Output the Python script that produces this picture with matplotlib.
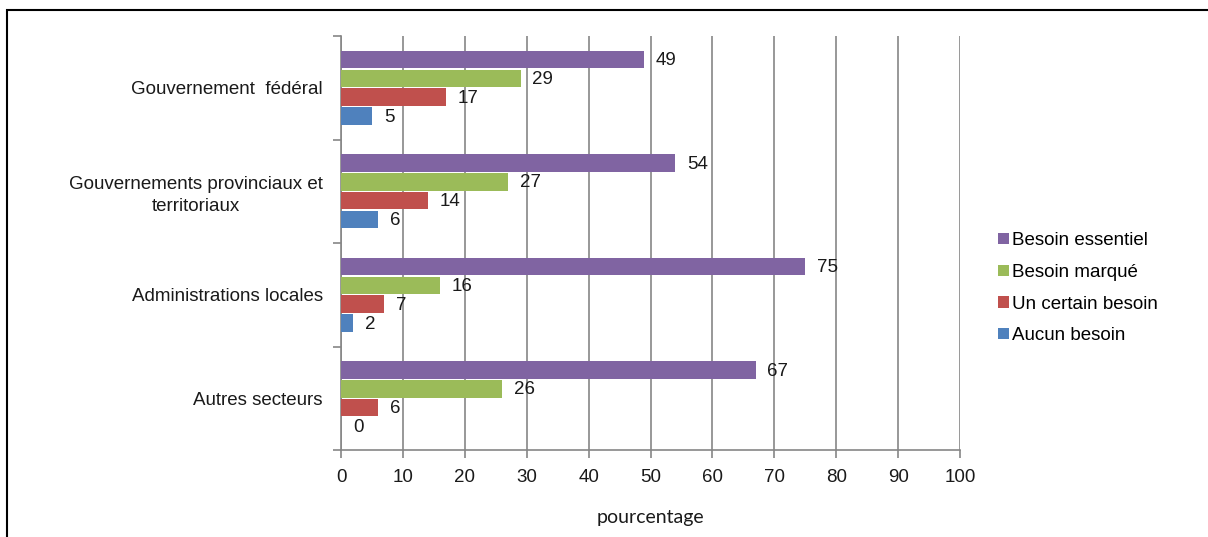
import matplotlib
matplotlib.use("Agg")
import matplotlib.pyplot as plt
import numpy as np
from matplotlib.patches import Rectangle, Patch
from matplotlib.ticker import FixedLocator

plt.rcParams['font.family'] = ['Liberation Sans', 'DejaVu Sans']

categories = ["Gouvernement  fédéral",
              "Gouvernements provinciaux et\nterritoriaux",
              "Administrations locales",
              "Autres secteurs"]
series_names = ["Besoin essentiel", "Besoin marqué", "Un certain besoin", "Aucun besoin"]
besoin_essentiel = [49, 54, 75, 67]
besoin_marque = [29, 27, 16, 26]
certain_besoin = [17, 14, 7, 6]
aucun_besoin = [5, 6, 2, 0]
x_ticks = [0, 10, 20, 30, 40, 50, 60, 70, 80, 90, 100]

colors = ["#8064A2", "#9BBB59", "#C0504D", "#4F81BD"]
series = [besoin_essentiel, besoin_marque, certain_besoin, aucun_besoin]
txt = "#1a1a1a"
fs = 13.5

W, H = 1208, 537
fig = plt.figure(figsize=(W / 100, H / 100), dpi=100)
ax = fig.add_axes([341 / W, 1 - 450 / H, (960 - 341) / W, (450 - 36) / H])

n = len(categories)
ypos = np.arange(n)[::-1].astype(float)
pitch = 0.182
height = 0.168
offsets = [1.5 * pitch, 0.5 * pitch, -0.5 * pitch, -1.5 * pitch]

for vals, col, off in zip(series, colors, offsets):
    ax.barh(ypos + off, vals, height=height, color=col, zorder=3)
    for y, v in zip(ypos + off, vals):
        ax.text(v + 1.9, y - 0.01, str(v), va="center", ha="left",
                fontsize=fs, color=txt, zorder=4)

grey = "#868686"
ax.set_xlim(0, 100)
ax.set_ylim(-0.5, n - 0.5)
ax.set_xticks(x_ticks)
ax.set_xticklabels([str(t) for t in x_ticks], fontsize=fs, color=txt)
ax.set_yticks(ypos)
ax.set_yticklabels(categories, fontsize=fs, color=txt,
                   multialignment="center", linespacing=1.35)
ax.yaxis.set_minor_locator(FixedLocator(np.arange(-0.5, n, 1.0)))
ax.tick_params(axis="y", which="major", length=0, pad=13)
ax.tick_params(axis="y", which="minor", length=6, color=grey, width=1.2)
ax.tick_params(axis="x", which="major", length=6, color=grey, width=1.2, pad=8)
ax.grid(axis="x", color=grey, linewidth=1.2, zorder=0)
ax.set_axisbelow(True)
for side in ["top", "right"]:
    ax.spines[side].set_visible(False)
for side in ["left", "bottom"]:
    ax.spines[side].set_color(grey)
    ax.spines[side].set_linewidth(1.2)
ax.set_xlabel("pourcentage", fontsize=14, color=txt, labelpad=16,
              family=["Lato", "DejaVu Sans"])

handles = [Patch(facecolor=c, edgecolor="none") for c in colors]
fig.legend(handles, series_names, loc="upper left",
           bbox_to_anchor=(989 / W, 1 - 223 / H), frameon=False,
           fontsize=fs, handlelength=0.55, handleheight=0.55,
           handletextpad=0.2, labelspacing=0.78, borderpad=0)

# outer frame
fig.patches.append(Rectangle((7 / W, -0.1), 1.2, 1 - 10 / H + 0.1,
                             transform=fig.transFigure, fill=False,
                             edgecolor="black", linewidth=1.5))

fig.savefig("out.png", dpi=100)
